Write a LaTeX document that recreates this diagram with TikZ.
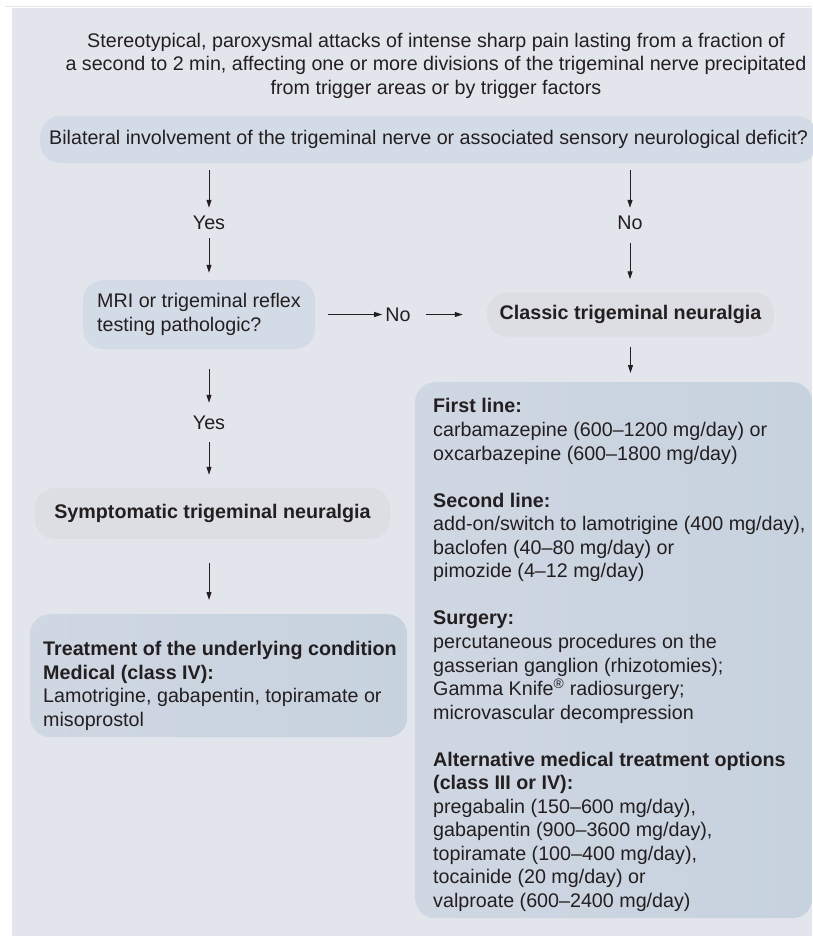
\documentclass[tikz,border=0pt]{standalone}
\usepackage{fontspec}
\setmainfont{Liberation Sans}
\usetikzlibrary{arrows.meta,positioning,backgrounds}
\definecolor{panelbg}{HTML}{E3E5EC}
\definecolor{qfill}{HTML}{D3DCE6}
\definecolor{dfill}{HTML}{DCDEE3}
\definecolor{tfillL}{HTML}{CFD7E2}
\definecolor{tfillR}{HTML}{C6D2DE}
\definecolor{ink}{HTML}{231F20}
\newcommand{\tnfont}{\fontsize{19.7pt}{23.55pt}\selectfont}
\tikzset{
  % Question box: pale blue pill, plain text
  qbox/.style={rectangle, fill=qfill, rounded corners=20pt, align=left,
               font=\tnfont, text=ink, inner ysep=0pt},
  % Diagnosis box: neutral grey pill, bold text
  dbox/.style={rectangle, fill=dfill, rounded corners=20pt, align=center,
               font=\tnfont\bfseries, text=ink, inner ysep=0pt},
  % Treatment panel: shaded blue, rounded
  tbox/.style={rectangle, left color=tfillL, right color=tfillR, rounded corners=20pt,
               inner sep=0pt},
  % Plain text
  lbl/.style={inner sep=0pt, minimum height=16pt, font=\tnfont, text=ink},
  txtblock/.style={inner sep=0pt, align=left, font=\tnfont, text=ink, anchor=north west},
  % Arrows
  flowarr/.style={-{Triangle[length=8pt,width=5pt]}, line width=1pt, draw=ink,
                  shorten <=7pt, shorten >=7pt}
}

\begin{document}
\begin{tikzpicture}[x=1pt, y=-1pt]
\useasboundingbox (0,0) rectangle (812,936);

% ============== Panel ==============
\fill[white] (0,0) rectangle (812,936);
\draw[line width=1pt, draw=black!10] (5,6.5) -- (812,6.5);
\fill[panelbg] (12,8) rectangle (812,936);

% ============== Top: presentation and first question ==============
\node[lbl, align=center] (intro) at (436,65.5) {Stereotypical, paroxysmal attacks of intense sharp pain lasting from a fraction of\\
a second to 2 min, affecting one or more divisions of the trigeminal nerve precipitated\\
from trigger areas or by trigger factors};

\node[qbox, anchor=west, minimum height=47pt, inner xsep=9pt] (bil) at (40,139.5)
  {Bilateral involvement of the trigeminal nerve or associated sensory neurological deficit?};

\node[lbl] (yes1) at (209,223) {Yes};
\node[lbl] (no1) at (630,223) {No};

% ============== Second question ==============
\node[qbox, minimum width=232pt, minimum height=69pt] (mri) at (199,314.5)
  {MRI or trigeminal reflex\\testing pathologic?};
\node[lbl, right=70pt of mri] (no2) {No};
\node[dbox, right=76pt of no2, minimum width=287pt, minimum height=44pt] (classic)
  {Classic trigeminal neuralgia};

\draw[flowarr] (bil.south -| yes1) -- (yes1);
\draw[flowarr] (yes1) -- (yes1 |- mri.north);
\draw[flowarr] (bil.south -| no1) -- (no1);
\draw[flowarr, shorten <=12pt, shorten >=13pt] (no1) -- (no1 |- classic.north);
\draw[flowarr, shorten <=13pt, shorten >=3pt] (mri) -- (no2);
\draw[flowarr, shorten <=15pt, shorten >=24pt] (no2) -- (classic);

% ============== LEFT: symptomatic ==============
\node[lbl] (yes2) at (209,423) {Yes};
\node[dbox, minimum width=355pt, minimum height=51pt] (sympt) at (212.5,513.5)
  {Symptomatic trigeminal neuralgia};
\node[tbox, anchor=north west, minimum width=377pt, minimum height=123pt] (treat) at (30,614) {};
\node[txtblock, below right=27pt and 13pt of treat.north west] (treattxt)
  {\textbf{Treatment of the underlying condition}\\
   \textbf{Medical (class IV):}\\
   Lamotrigine, gabapentin, topiramate or\\
   misoprostol};

\draw[flowarr, shorten <=20pt, shorten >=12pt] (mri.south -| yes2) -- (yes2);
\draw[flowarr, shorten <=11pt, shorten >=13pt] (yes2) -- (yes2 |- sympt.north);
\draw[flowarr, shorten <=24pt, shorten >=14pt] (sympt.south -| yes2) -- (yes2 |- treat.north);

% ============== RIGHT: classic treatment ==============
\node[tbox, anchor=north west, minimum width=397pt, minimum height=536pt] (rbox) at (415,382) {};
\node[txtblock, below right=16.5pt and 18pt of rbox.north west] (rtxt)
  {\textbf{First line:}\\
   carbamazepine (600--1200 mg/day) or\\
   oxcarbazepine (600--1800 mg/day)\\[23.55pt]
   \textbf{Second line:}\\
   add-on/switch to lamotrigine (400 mg/day),\\
   baclofen (40--80 mg/day) or\\
   pimozide (4--12 mg/day)\\[23.55pt]
   \textbf{Surgery:}\\
   percutaneous procedures on the\\
   gasserian ganglion (rhizotomies);\\
   Gamma Knife\textsuperscript{\textregistered} radiosurgery;\\
   microvascular decompression\\[23.55pt]
   \textbf{Alternative medical treatment options}\\
   \textbf{(class III or IV):}\\
   pregabalin (150--600 mg/day),\\
   gabapentin (900--3600 mg/day),\\
   topiramate (100--400 mg/day),\\
   tocainide (20 mg/day) or\\
   valproate (600--2400 mg/day)};

\draw[flowarr, shorten <=10pt, shorten >=9pt] (classic) -- (classic |- rbox.north);

\end{tikzpicture}
\end{document}
